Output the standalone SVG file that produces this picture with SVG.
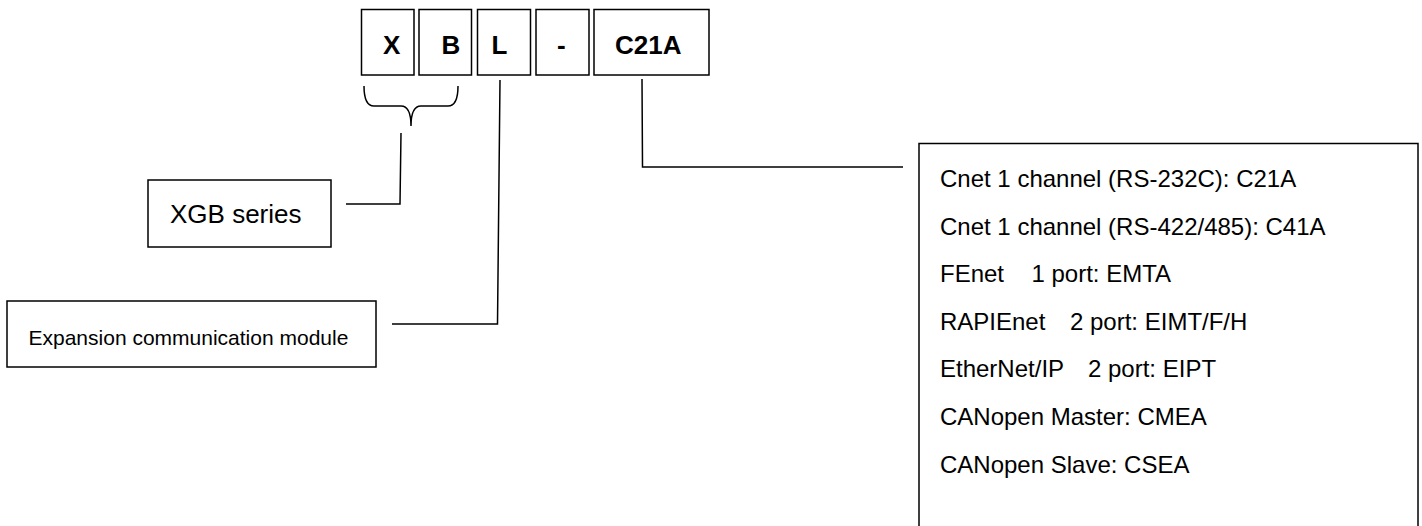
<svg xmlns="http://www.w3.org/2000/svg" width="1422" height="526" viewBox="0 0 1422 526">
<style>
.box{fill:#fff;stroke:#000;stroke-width:1.5}
.ln{fill:none;stroke:#000;stroke-width:1.5}
.code{font-family:"Liberation Sans",Arial,sans-serif;font-size:26px;font-weight:bold;fill:#000}
.lbl{font-family:"Liberation Sans",Arial,sans-serif;fill:#000}
.item{font-family:"Liberation Sans",Arial,sans-serif;font-size:24px;fill:#000}
</style>
<rect width="1422" height="526" fill="#fff"/>
<g id="code-x"><rect class="box" x="361.5" y="9.5" width="52.5" height="65.5"/><text class="code" x="383" y="53.5">X</text></g>
<g id="code-b"><rect class="box" x="419" y="9.5" width="52.5" height="65.5"/><text class="code" x="441.5" y="53.5">B</text></g>
<g id="code-l"><rect class="box" x="477.5" y="9.5" width="53" height="65.5"/><text class="code" x="491.5" y="53.5">L</text></g>
<g id="code-dash"><rect class="box" x="536" y="9.5" width="53" height="65.5"/><text class="code" x="557" y="53.5">-</text></g>
<g id="code-c21a"><rect class="box" x="594" y="9.5" width="115" height="65.5"/><text class="code" x="615" y="53.5">C21A</text></g>
<g id="xgb-series"><rect class="box" x="148" y="180" width="183" height="67"/><text class="lbl" x="170" y="223" font-size="26">XGB series</text></g>
<g id="expansion-module"><rect class="box" x="7" y="301" width="369" height="66"/><text class="lbl" x="28.5" y="345" font-size="21">Expansion communication module</text></g>
<g id="module-list">
<rect class="box" x="919" y="143.5" width="499" height="400"/>
<text class="item" x="940" y="187">Cnet 1 channel (RS-232C): C21A</text>
<text class="item" x="940" y="234.5">Cnet 1 channel (RS-422/485): C41A</text>
<text class="item" x="940" y="282"><tspan>FEnet</tspan><tspan x="1031.5">1 port: EMTA</tspan></text>
<text class="item" x="940" y="329.5"><tspan>RAPIEnet</tspan><tspan x="1070">2 port: EIMT/F/H</tspan></text>
<text class="item" x="940" y="377"><tspan>EtherNet/IP</tspan><tspan x="1088">2 port: EIPT</tspan></text>
<text class="item" x="940" y="425">CANopen Master: CMEA</text>
<text class="item" x="940" y="472.5">CANopen Slave: CSEA</text>
</g>
<g id="connectors">
<path class="ln" d="M364,86 Q364,106 374,106 L401,106 Q411,106 411,126 Q411,106 421,106 L448,106 Q458,106 458,86"/>
<path class="ln" d="M401,133 L400,204 L346,204"/>
<path class="ln" d="M500,80 L497.5,324 L392,324"/>
<path class="ln" d="M642,79 L642.5,167 L903,167"/>
</g>
</svg>
